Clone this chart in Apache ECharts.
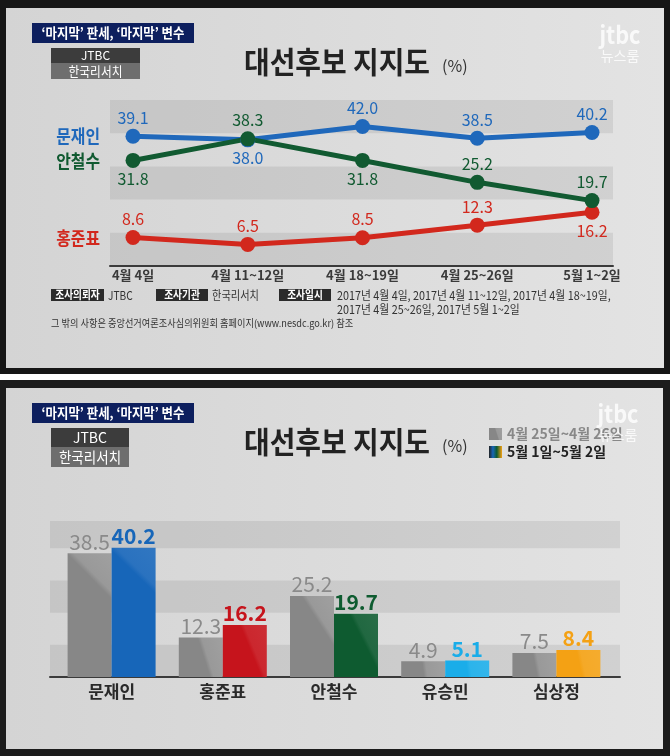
<!DOCTYPE html>
<html>
<head>
<meta charset="utf-8">
<script src="https://cdn.jsdelivr.net/npm/echarts@6/dist/echarts.min.js"></script>
<style>
  html, body { margin: 0; padding: 0; background: #fff; }
  #chart { width: 670px; height: 756px; }
</style>
</head>
<body>
<div id="chart"></div>
<script>
// 추이 (line chart)
const surveyDates = ["4월 4일", "4월 11~12일", "4월 18~19일", "4월 25~26일", "5월 1~2일"];
const moonTrend = [39.1, 38.0, 42.0, 38.5, 40.2];
const ahnTrend = [31.8, 38.3, 31.8, 25.2, 19.7];
const hongTrend = [8.6, 6.5, 8.5, 12.3, 16.2];

// 최근 2주 비교 (bar chart)
const candidates = ["문재인", "홍준표", "안철수", "유승민", "심상정"];
const prevWeek = [38.5, 12.3, 25.2, 4.9, 7.5];
const thisWeek = [40.2, 16.2, 19.7, 5.1, 8.4];
const prevName = "4월 25일~4월 26일";
const thisName = "5월 1일~5월 2일";

// label placement per point
const moonLabelPos = ["top", "bottom", "top", "top", "top"];
const ahnLabelPos = ["bottom", "top", "bottom", "top", "top"];
const hongLabelPos = ["top", "top", "top", "top", "bottom"];

const KR = '"Noto Sans CJK KR", "Noto Sans", sans-serif';
const BLUE = "#1f68bb";
const GREEN = "#115a31";
const RED = "#d2281d";
const barColors = ["#1766b9", "#c6141c", "#0e5b30", "#1aade9", "#f4a114"];
const bandDark = "rgba(0,0,0,0.075)";

const chart = echarts.init(document.getElementById("chart"));

const mix = (hex, t) => {
  const n = parseInt(hex.slice(1), 16);
  const f = c => Math.round(c + (255 - c) * t);
  return `rgb(${f(n >> 16)},${f((n >> 8) & 255)},${f(n & 255)})`;
};
const sheen = (hex, t) =>
  new echarts.graphic.LinearGradient(0, 0.35, 1, 0, [
    { offset: 0, color: hex },
    { offset: 0.48, color: hex },
    { offset: 0.56, color: mix(hex, t) },
    { offset: 1, color: mix(hex, t * 1.4) }
  ]);

const rect = (x, y, w, h, fill, z = -50) => ({
  type: "rect", silent: true, z,
  shape: { x, y, width: w, height: h },
  style: { fill }
});
const text = (x, y, str, o = {}) => ({
  type: "text", silent: true, x, y, z: o.z ?? 20, scaleX: o.sx ?? 1,
  style: {
    text: str,
    fill: o.color ?? "#222",
    fontSize: o.size ?? 12,
    fontWeight: o.weight ?? "normal",
    fontFamily: KR,
    align: o.align ?? "left", textAlign: o.align ?? "left",
    verticalAlign: "middle", textVerticalAlign: "middle"
  }
});

const panelFill = () =>
  new echarts.graphic.LinearGradient(0, 0, 1, 0, [
    { offset: 0, color: "#d4d4d4" },
    { offset: 1, color: "#e3e3e3" }
  ]);

// header block shared by both panels
const header = (y0, boxW, boxH, boxFont) => [
  rect(32, y0 + 23, 162, 20, "#0d1f5e", 5),
  text(113, y0 + 33, "‘마지막’ 판세, ‘마지막’ 변수", { color: "#fff", size: 13.5, weight: "bold", align: "center", sx: 0.92 }),
  rect(51, y0 + 48, boxW, boxH, "#3c3c3c", 5),
  text(51 + boxW / 2, y0 + 48 + boxH / 2, "JTBC", { color: "#fff", size: boxFont, align: "center" }),
  rect(51, y0 + 48 + boxH, boxW, boxH + 1, "#6e6e6e", 5),
  text(51 + boxW / 2, y0 + 48 + boxH * 1.5 + 0.5, "한국리서치", { color: "#fff", size: boxFont + 1, align: "center", sx: 0.9 }),
  text(244, y0 + 62, "대선후보 지지도", { size: 30, weight: "bold", color: "#222", sx: 0.93 }),
  text(442, y0 + 66, "(%)", { size: 16, color: "#333" })
];
const logo = (cx, y) => [
  text(cx, y, "jtbc", { size: 24, weight: "bold", color: "rgba(255,255,255,0.8)", align: "center", z: 40, sx: 0.9 }),
  text(cx, y + 21, "뉴스룸", { size: 14, color: "rgba(255,255,255,0.8)", align: "center", z: 40 })
];
const tag = (x, w, str) => [
  rect(x, 289, w, 12, "#2b2b2b", 5),
  text(x + w / 2, 295, str, { color: "#fff", size: 11, weight: "bold", align: "center", sx: 0.88 })
];

const lineSeries = (name, values, positions, color) => ({
  name, type: "line", xAxisIndex: 1, yAxisIndex: 1, silent: true,
  data: values.map((v, i) => ({ value: v, label: { position: positions[i] } })),
  symbol: "circle", symbolSize: 15,
  lineStyle: { color, width: 5 },
  itemStyle: { color },
  label: {
    show: true, color, fontSize: 16, fontFamily: KR, distance: 3,
    formatter: p => p.value.toFixed(1)
  },
  emphasis: { disabled: true }
});

const option = {
  animation: false,
  graphic: [
    rect(0, 0, 670, 374, "#161616", -100),
    rect(6, 8, 658, 360, panelFill(), -90),
    rect(0, 380, 670, 376, "#1c1c1c", -100),
    rect(6, 388, 657, 361, panelFill(), -90),
    ...header(0, 89, 15, 12),
    ...header(380, 78, 19, 14),
    ...logo(620, 35),
    ...logo(618, 414),
    text(100, 136, "문재인", { color: BLUE, size: 18, weight: "bold", align: "right", sx: 0.88 }),
    text(100, 161, "안철수", { color: GREEN, size: 18, weight: "bold", align: "right", sx: 0.88 }),
    text(100, 238, "홍준표", { color: RED, size: 18, weight: "bold", align: "right", sx: 0.88 }),
    ...tag(51, 53, "조사의뢰자"),
    text(108, 295, "JTBC", { color: "#333", size: 12, sx: 0.85 }),
    ...tag(156, 52, "조사기관"),
    text(212, 295, "한국리서치", { color: "#333", size: 12, sx: 0.85 }),
    ...tag(279, 52, "조사일시"),
    text(337, 295, "2017년 4월 4일, 2017년 4월 11~12일, 2017년 4월 18~19일,", { color: "#333", size: 12, sx: 0.9 }),
    text(337, 309, "2017년 4월 25~26일, 2017년 5월 1~2일", { color: "#333", size: 12, sx: 0.9 }),
    text(51, 323, "그 밖의 사항은 중앙선거여론조사심의위원회 홈페이지(www.nesdc.go.kr) 참조", { color: "#333", size: 10, sx: 0.92 })
  ],
  legend: {
    data: [
      { name: prevName, textStyle: { color: "#888" } },
      { name: thisName, textStyle: { color: "#222" } }
    ],
    left: 489, top: 427, orient: "vertical", padding: 0,
    itemWidth: 13, itemHeight: 12, itemGap: 4, icon: "rect",
    selectedMode: false,
    textStyle: { fontSize: 14, fontWeight: "bold", fontFamily: KR }
  },
  grid: [
    { left: 110, top: 100, width: 503, height: 166 },
    { left: 133, top: 100, width: 459, height: 166 },
    { left: 50, top: 521, width: 570, height: 156 },
    { left: 56, top: 521, width: 556, height: 156 }
  ],
  xAxis: [
    {
      gridIndex: 0, type: "value", min: 0, max: 1,
      axisLine: { show: true, onZero: false, lineStyle: { color: "#3a3a3a", width: 2 } },
      axisTick: { show: false }, axisLabel: { show: false }, splitLine: { show: false }
    },
    {
      gridIndex: 1, type: "category", data: surveyDates, boundaryGap: false,
      axisLine: { show: false }, axisTick: { show: false }, splitLine: { show: false },
      axisLabel: { color: "#3a3a3a", fontSize: 13, fontWeight: "bold", fontFamily: KR, margin: 3 }
    },
    {
      gridIndex: 2, type: "value", min: 0, max: 1,
      axisLine: { show: true, onZero: false, lineStyle: { color: "#3a3a3a", width: 2 } },
      axisTick: { show: false }, axisLabel: { show: false }, splitLine: { show: false }
    },
    {
      gridIndex: 3, type: "category", data: candidates,
      axisLine: { show: false }, axisTick: { show: false }, splitLine: { show: false },
      axisLabel: { color: "#2a2a2a", fontSize: 17, fontWeight: "bold", fontFamily: KR, margin: 6 }
    }
  ],
  yAxis: [
    {
      gridIndex: 0, type: "value", min: 0, max: 50, interval: 10,
      axisLine: { show: false }, axisTick: { show: false }, axisLabel: { show: false },
      splitLine: { show: false },
      splitArea: { show: true, areaStyle: { color: [bandDark, "rgba(0,0,0,0)"] } }
    },
    { gridIndex: 1, type: "value", min: 0, max: 50, show: false, splitLine: { show: false } },
    {
      gridIndex: 2, type: "value", min: 0, max: 48.5, interval: 10,
      axisLine: { show: false }, axisTick: { show: false }, axisLabel: { show: false },
      splitLine: { show: false },
      splitArea: { show: true, areaStyle: { color: [bandDark, "rgba(0,0,0,0)"] } }
    },
    { gridIndex: 3, type: "value", min: 0, max: 48.5, show: false, splitLine: { show: false } }
  ],
  series: [
    lineSeries("문재인", moonTrend, moonLabelPos, BLUE),
    lineSeries("홍준표", hongTrend, hongLabelPos, RED),
    lineSeries("안철수", ahnTrend, ahnLabelPos, GREEN),
    {
      name: prevName, type: "bar", xAxisIndex: 3, yAxisIndex: 3, silent: true,
      data: prevWeek, barWidth: 44, barGap: "0%",
      itemStyle: { color: sheen("#878787", 0.15) },
      label: {
        show: true, position: "top", distance: 1, color: "#8a8a8a",
        fontSize: 21, fontFamily: KR, formatter: p => p.value.toFixed(1)
      }
    },
    {
      name: thisName, type: "bar", xAxisIndex: 3, yAxisIndex: 3, silent: true,
      barWidth: 44, barGap: "0%",
      data: thisWeek.map((v, i) => ({
        value: v,
        itemStyle: { color: sheen(barColors[i], 0.08) },
        label: { color: barColors[i] }
      })),
      itemStyle: {
        color: new echarts.graphic.LinearGradient(0, 0, 1, 0, [
          { offset: 0, color: "#222" },
          { offset: 0.3, color: barColors[0] },
          { offset: 0.6, color: barColors[2] },
          { offset: 1, color: barColors[4] }
        ])
      },
      label: {
        show: true, position: "top", distance: 1,
        fontSize: 21, fontWeight: "bold", fontFamily: KR, formatter: p => p.value.toFixed(1)
      }
    }
  ]
};

chart.setOption(option);
</script>
</body>
</html>
